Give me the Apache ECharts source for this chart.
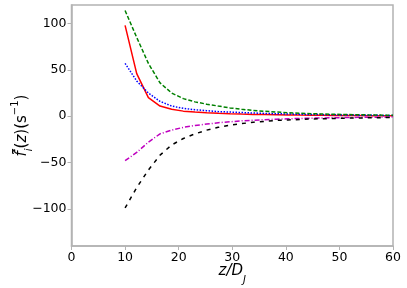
<!DOCTYPE html>
<html>
<head>
<meta charset="utf-8">
<script src="https://cdn.jsdelivr.net/npm/echarts@6/dist/echarts.min.js"></script>
<style>html,body{margin:0;padding:0;background:#fff}#c{width:407px;height:288px}</style>
</head>
<body>
<div id="c"></div>
<script>
const zValues = [10, 12.17, 14.35, 16.52, 18.7, 20.87, 23.04, 25.22, 27.39, 29.57, 31.74, 33.91, 36.09, 38.26, 40.43, 42.61, 44.78, 46.96, 49.13, 51.3, 53.48, 55.65, 57.83, 60];
const redValues = [98, 46, 20, 11, 7.5, 5.5, 4.5, 3.8, 3.2, 2.7, 2.3, 2.0, 1.8, 1.6, 1.4, 1.2, 1.1, 1.0, 0.9, 0.8, 0.7, 0.6, 0.5, 0.5];
const blueValues = [57, 38, 25, 16, 11, 8.5, 7, 6, 5, 4.5, 4, 3.5, 3, 2.7, 2.4, 2.1, 1.9, 1.7, 1.5, 1.3, 1.2, 1.0, 0.9, 0.8];
const greenValues = [114, 85, 57, 36, 25, 19, 15.5, 13, 11, 9, 7.5, 6.3, 5.3, 4.5, 3.8, 3.2, 2.8, 2.4, 2.1, 1.8, 1.6, 1.4, 1.2, 1.1];
const magentaValues = [-48, -39, -28, -19, -15, -12, -10, -8.5, -7, -6, -5, -4.3, -3.7, -3.2, -2.8, -2.4, -2.1, -1.8, -1.6, -1.4, -1.2, -1.1, -1.0, -0.9];
const blackValues = [-99, -77, -58, -42, -31, -24, -19, -15, -12, -9.5, -8, -6.5, -5.5, -4.5, -4, -3.5, -3, -2.7, -2.4, -2.1, -1.9, -1.7, -1.5, -1.3];
const yTicks = [-100, -50, 0, 50, 100];
const xTicks = [0, 10, 20, 30, 40, 50, 60];

const pair = v => zValues.map((z, i) => [z, v[i]]);
const font = 'DejaVu Sans';
const spine = '#b3b3b3';
const mk = (data, color, type, w) => ({
  type: 'line', data: pair(data), showSymbol: false, symbol: 'none', silent: true,
  lineStyle: { color, width: w, type }, animation: false
});

const chart = echarts.init(document.getElementById('c'), null, { renderer: 'canvas' });
chart.setOption({
  animation: false,
  backgroundColor: '#fff',
  grid: { left: 71.5, right: 14, top: 5, bottom: 42, containLabel: false, outerBoundsMode: 'none',
    show: true, borderColor: spine, borderWidth: 1.5, backgroundColor: 'transparent' },
  xAxis: {
    type: 'value', min: 0, max: 60, interval: 10,
    axisLine: { show: true, onZero: false, lineStyle: { color: spine, width: 1.5 } },
    axisTick: { show: true, length: 4, lineStyle: { color: spine } },
    splitLine: { show: false },
    axisLabel: { color: '#000', fontFamily: font, fontSize: 12.5, margin: 5 },
    name: '{it|z/D}{sub|J}', nameLocation: 'middle', nameGap: 18, nameMoveOverlap: false,
    nameTextStyle: {
      fontFamily: font, color: '#000',
      rich: {
        it: { fontFamily: font, fontStyle: 'italic', fontSize: 15, lineHeight: 21, verticalAlign: 'top' },
        sub: { fontFamily: font, fontStyle: 'italic', fontSize: 10, lineHeight: 21, verticalAlign: 'bottom' }
      }
    }
  },
  yAxis: {
    type: 'value', min: -140, max: 120,
    axisLine: { show: true, onZero: false, lineStyle: { color: spine, width: 1.5 } },
    axisTick: { show: true, length: 4, customValues: yTicks, lineStyle: { color: spine } },
    splitLine: { show: false },
    axisLabel: { color: '#000', fontFamily: font, fontSize: 12.5, margin: 5, customValues: yTicks,
      formatter: v => String(v).replace('-', '\u2212') },
    name: '{f|f\u0303\u0304}{sub|i}{n|(}{it|z}{n|)(s}{sup|\u22121}{n|)}',
    nameLocation: 'middle', nameRotate: 90, nameGap: 37, nameMoveOverlap: false,
    nameTextStyle: {
      fontFamily: font, color: '#000',
      rich: {
        f: { fontFamily: font, fontStyle: 'italic', fontSize: 15, lineHeight: 24, verticalAlign: 'middle' },
        it: { fontFamily: font, fontStyle: 'italic', fontSize: 15, lineHeight: 24, verticalAlign: 'middle' },
        n: { fontFamily: font, fontSize: 15, lineHeight: 24, verticalAlign: 'middle' },
        sub: { fontFamily: font, fontStyle: 'italic', fontSize: 10, lineHeight: 24, verticalAlign: 'bottom' },
        sup: { fontFamily: font, fontSize: 10, lineHeight: 24, verticalAlign: 'top' }
      }
    }
  },
  series: [
    mk(redValues, '#ff0000', 'solid', 1.5),
    mk(blueValues, '#0000ff', [1.5, 1.5], 1.5),
    mk(greenValues, '#008000', [4, 2], 1.5),
    mk(magentaValues, '#bf00bf', [5, 2, 1, 2], 1.5),
    mk(blackValues, '#000000', [4, 5], 1.5)
  ]
});
</script>
</body>
</html>
